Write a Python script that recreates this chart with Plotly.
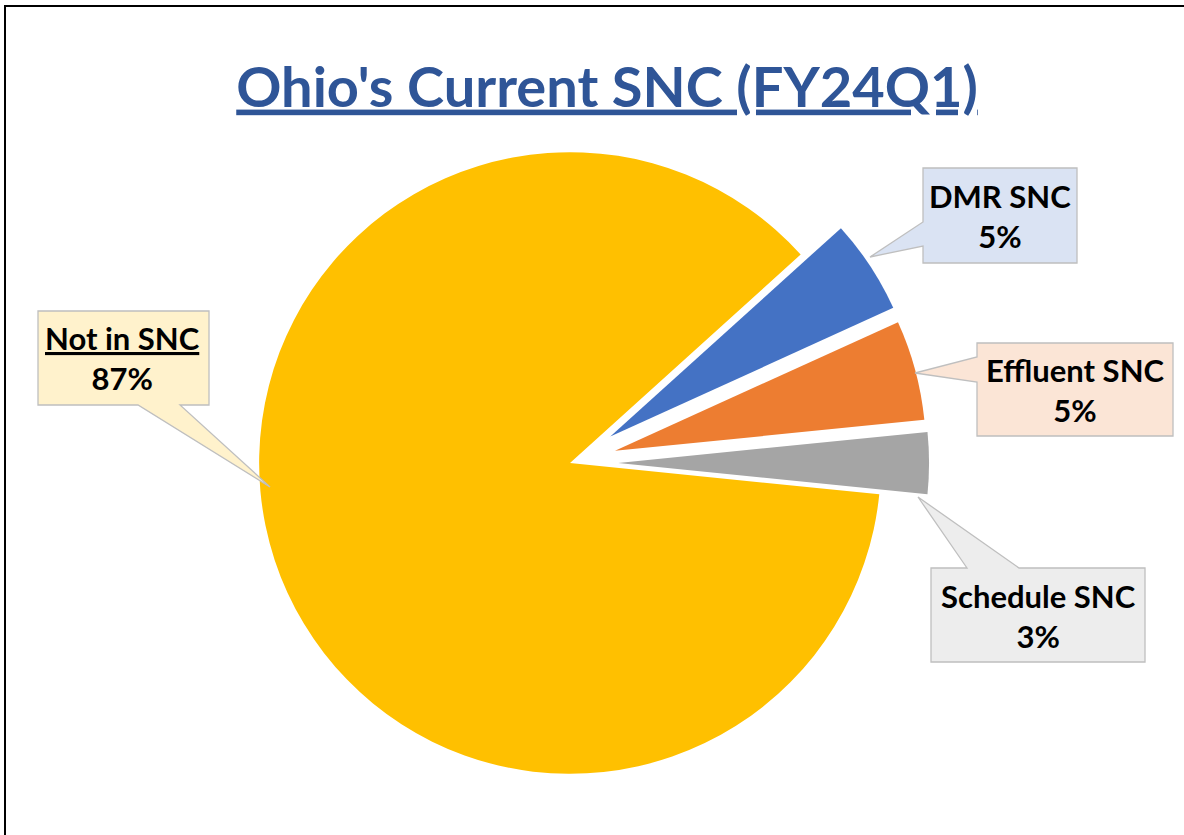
import plotly.graph_objects as go

W, H = 1184, 835

# slice order is clockwise from the upper-right edge of the big slice
labels = ["DMR SNC", "Effluent SNC", "Schedule SNC", "Not in SNC"]
values = [4.9, 5.2, 3.2, 86.7]
colors = ["#4472C4", "#ED7D31", "#A5A5A5", "#FFC000"]
box_colors = ["#DAE3F3", "#FBE5D6", "#EDEDED", "#FFF2CC"]


def px(x):
    return x / W


def py(y):
    return 1 - y / H


pulls = [0.155, 0.15, 0.155, 0]
half = 310 * (1 + max(pulls)) + 1

fig = go.Figure()
fig.add_trace(go.Pie(
    labels=labels,
    values=values,
    sort=False,
    direction="clockwise",
    rotation=47.9,
    pull=pulls,
    marker=dict(colors=colors),
    textinfo="none",
    hoverinfo="label+percent",
    showlegend=False,
    domain=dict(x=[px(570 - half), px(570 + half)], y=[py(463 + half), py(463 - half)]),
))

# callout outlines (box + pointer) in pixel coords
callouts = [
    # DMR: pointer on left side
    [(923, 168), (1077, 168), (1077, 263), (923, 263), (923, 246), (870, 257), (923, 222)],
    # Effluent: pointer on left side
    [(977, 343), (1173, 343), (1173, 436), (977, 436), (977, 382), (915, 373), (977, 357)],
    # Schedule: pointer on top side
    [(931, 568), (967, 568), (918, 497), (1019, 568), (1145, 568), (1145, 662), (931, 662)],
    # Not in SNC: pointer on bottom side
    [(38, 311), (209, 311), (209, 405), (180, 405), (270, 487), (138, 405), (38, 405)],
]
text_pos = [(1000, 216), (1075, 390), (1038, 616), (123, 358)]

shapes = []
for pts, fill in zip(callouts, box_colors):
    path = "M " + " L ".join(f"{px(x):.5f},{py(y):.5f}" for x, y in pts) + " Z"
    shapes.append(dict(type="path", xref="paper", yref="paper", path=path,
                       fillcolor=fill, line=dict(color="#BFBFBF", width=1.3),
                       layer="above"))

# chart frame (top and left edges visible)
shapes.append(dict(type="path", xref="paper", yref="paper",
                   path=f"M {px(5)},{py(850)} L {px(5)},{py(6)} L {px(1200)},{py(6)}",
                   line=dict(color="black", width=2)))

total = sum(values)
annotations = []
for (x, y), lab, v in zip(text_pos, labels, values):
    name = f"<u>{lab}</u>" if lab == "Not in SNC" else lab
    annotations.append(dict(
        x=px(x), y=py(y), xref="paper", yref="paper", showarrow=False,
        text=f"<b>{name}<br>{round(v / total * 100)}%</b>",
        font=dict(family="Lato", size=31, color="black"),
        xanchor="center", yanchor="middle", align="center",
    ))

fig.update_layout(
    width=W, height=H,
    margin=dict(l=0, r=0, t=0, b=0),
    paper_bgcolor="white", plot_bgcolor="white",
    title=dict(text="<b><u>Ohio's Current SNC (FY24Q1)</u></b>",
               x=px(607), y=py(87), xanchor="center", yanchor="middle",
               font=dict(family="Lato", size=56, color="#2F5597")),
    shapes=shapes,
    annotations=annotations,
)

# drop the default page margin so the figure sits at the window's top-left corner
fig.write_html("out.html", config={"displayModeBar": False},
               post_script="document.body.style.margin='0';")
